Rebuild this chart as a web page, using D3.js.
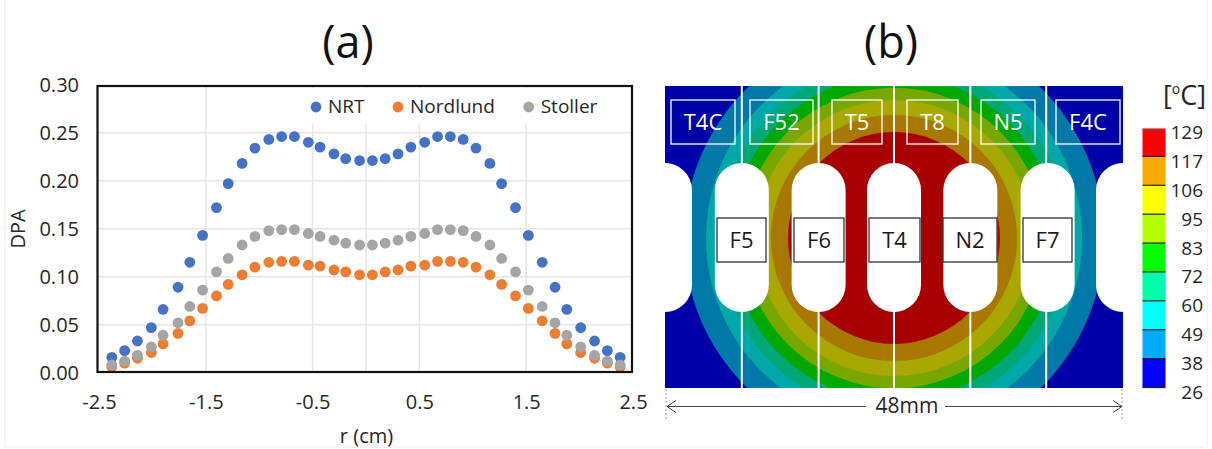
<!DOCTYPE html>
<html>
<head>
<meta charset="utf-8">
<script src="https://cdn.jsdelivr.net/npm/d3@7"></script>
<style>
  html, body { margin: 0; background: #fff; }
  svg { display: block; font-family: "Open Sans", sans-serif; }
</style>
</head>
<body>
<svg id="chart" width="1212" height="449"></svg>
<script>
// (a) DPA vs radius
const radius = [-2.38, -2.26, -2.14, -2.01, -1.90, -1.76, -1.65, -1.53, -1.40, -1.29, -1.16, -1.04, -0.91, -0.79, -0.67, -0.54, -0.43, -0.30, -0.19, -0.06,
  0.06, 0.18, 0.30, 0.42, 0.55, 0.67, 0.79, 0.91, 1.03, 1.16, 1.27, 1.40, 1.52, 1.65, 1.77, 1.88, 2.01, 2.14, 2.26, 2.38];
const nrt = [0.016, 0.023, 0.033, 0.047, 0.066, 0.089, 0.115, 0.143, 0.172, 0.197, 0.218, 0.234, 0.243, 0.246, 0.246, 0.240, 0.235, 0.228, 0.223, 0.221,
  0.221, 0.223, 0.228, 0.235, 0.240, 0.246, 0.246, 0.243, 0.234, 0.218, 0.197, 0.172, 0.143, 0.115, 0.089, 0.066, 0.047, 0.033, 0.023, 0.016];
const nordlund = [0.006, 0.010, 0.015, 0.021, 0.030, 0.041, 0.054, 0.067, 0.080, 0.092, 0.102, 0.110, 0.115, 0.116, 0.116, 0.112, 0.111, 0.107, 0.105, 0.102,
  0.102, 0.105, 0.107, 0.111, 0.112, 0.116, 0.116, 0.115, 0.110, 0.102, 0.092, 0.080, 0.067, 0.054, 0.041, 0.030, 0.021, 0.015, 0.010, 0.006];
const stoller = [0.008, 0.012, 0.018, 0.027, 0.039, 0.052, 0.069, 0.086, 0.105, 0.119, 0.133, 0.142, 0.148, 0.149, 0.149, 0.145, 0.142, 0.138, 0.135, 0.133,
  0.133, 0.135, 0.138, 0.142, 0.145, 0.149, 0.149, 0.148, 0.142, 0.133, 0.119, 0.105, 0.086, 0.069, 0.052, 0.039, 0.027, 0.018, 0.012, 0.008];
const seriesNames = ["NRT", "Nordlund", "Stoller"];
const seriesValues = [nrt, nordlund, stoller];
const seriesColors = ["#4472c4", "#ed7d31", "#a5a5a5"];
const xTicks = [-2.5, -1.5, -0.5, 0.5, 1.5, 2.5];
const xGrid = [-1.5, -0.5, 0, 0.5, 1.5];
const yTicks = [0, 0.05, 0.10, 0.15, 0.20, 0.25, 0.30];

// (b) temperature map
const tempLabels = ["129", "117", "106", "95", "83", "72", "60", "49", "38", "26"];
const bandColors = ["#ff0000", "#ffaa00", "#ffff00", "#b4ff00", "#00ff00", "#00ffaa", "#00ffff", "#00aaff", "#0000ff"];
const mapColors = ["#a80000", "#a87800", "#a8a800", "#78a800", "#00a800", "#00a878", "#00a8a8", "#0078a8", "#0000a8"];
const ringRadiusMm = [22.0, 19.7, 18.34, 17.09, 15.75, 14.47, 12.9, 11.1]; // outer to inner
const slotCentersMm = [-24, -15.95, -7.9, 0, 8, 16.1, 24];
const lineCentersMm = [-15.95, -7.9, 0, 8, 15.95];
const topNames = ["T4C", "F52", "T5", "T8", "N5", "F4C"];
const topEdges = [[671, 735], [750, 813], [832, 882], [907, 958], [981, 1035], [1056, 1120]];
const midNames = ["F5", "F6", "T4", "N2", "F7"];
const midEdges = [[717, 766], [794, 844], [869, 920], [943, 997], [1023, 1072]];

const svg = d3.select("#chart");
const inkColor = "#262626";

// page border
svg.append("rect").attr("x", 5).attr("y", -2).attr("width", 1202).attr("height", 449)
  .attr("fill", "none").attr("stroke", "#eeeeee");

svg.append("text").attr("x", 348).attr("y", 58).attr("text-anchor", "middle")
  .attr("font-size", 45).attr("fill", "#111").text("(a)");
svg.append("text").attr("x", 891).attr("y", 58).attr("text-anchor", "middle")
  .attr("font-size", 45).attr("fill", "#111").text("(b)");

// ---- panel a ----
const x = d3.scaleLinear().domain([-2.5, 2.5]).range([99, 633]);
const y = d3.scaleLinear().domain([0, 0.3]).range([372.7, 84.7]);

const plot = svg.append("g");
plot.selectAll(".gy").data(yTicks.slice(1, 6)).join("line")
  .attr("x1", 98).attr("x2", 632)
  .attr("y1", d => y(d)).attr("y2", d => y(d))
  .attr("stroke", "#e6e6e6").attr("stroke-width", 1.5);
plot.selectAll(".gx").data(xGrid).join("line")
  .attr("x1", d => x(d)).attr("x2", d => x(d))
  .attr("y1", 86).attr("y2", 372)
  .attr("stroke", "#e6e6e6").attr("stroke-width", 1.5);

// the legend sits on a white patch that hides the grid
plot.append("rect").attr("x", 302).attr("y", 88).attr("width", 328).attr("height", 36).attr("fill", "#fff");

const xAxis = d3.axisBottom(x).tickValues(xTicks).tickFormat(d3.format(".1f")).tickSize(0).tickPadding(23);
const gx = svg.append("g").attr("transform", "translate(0,372)").call(xAxis);
const yAxis = d3.axisLeft(y).tickValues(yTicks).tickFormat(d3.format(".2f")).tickSize(0).tickPadding(19);
const gy = svg.append("g").attr("transform", "translate(98,0)").call(yAxis);
[gx, gy].forEach(g => {
  g.select(".domain").remove();
  g.selectAll("text").attr("font-size", 20).attr("font-family", "Open Sans").attr("fill", inkColor);
});
gx.selectAll("text").text(d => d3.format(".1f")(d).replace("−", "-"));

svg.append("text").attr("transform", "translate(25,229) rotate(-90)").attr("text-anchor", "middle")
  .attr("font-size", 20).attr("fill", inkColor).text("DPA");
svg.append("text").attr("x", 366.5).attr("y", 443).attr("text-anchor", "middle")
  .attr("font-size", 20).attr("fill", inkColor).text("r (cm)");

seriesValues.forEach((vals, s) => {
  plot.append("g").selectAll("circle").data(vals).join("circle")
    .attr("cx", (d, i) => x(radius[i]))
    .attr("cy", d => y(d))
    .attr("r", 5.4)
    .attr("fill", seriesColors[s]);
});

plot.append("rect").attr("x", 97.5).attr("y", 86).attr("width", 534.5).attr("height", 286)
  .attr("fill", "none").attr("stroke", "#111").attr("stroke-width", 2.2);

const legendDotX = [316, 398, 528.7];
seriesNames.forEach((name, s) => {
  svg.append("circle").attr("cx", legendDotX[s]).attr("cy", 107).attr("r", 5.4).attr("fill", seriesColors[s]);
  svg.append("text").attr("x", legendDotX[s] + 12).attr("y", 113)
    .attr("font-size", 19).attr("fill", inkColor).text(name);
});

// ---- panel b ----
const mx = d3.scaleLinear().domain([-24, 24]).range([665, 1123]);
const my = d3.scaleLinear().domain([-15.83, 15.83]).range([86, 388]);
const mmToPx = (mx(1) - mx(0));
const mapCenterY = 238;

svg.append("clipPath").attr("id", "mapClip").append("rect")
  .attr("x", mx(-24)).attr("y", my(-15.83)).attr("width", mx(24) - mx(-24)).attr("height", my(15.83) - my(-15.83));

const map = svg.append("g").attr("clip-path", "url(#mapClip)");
map.append("rect").attr("x", mx(-24)).attr("y", my(-15.83)).attr("width", mx(24) - mx(-24)).attr("height", my(15.83) - my(-15.83))
  .attr("fill", mapColors[8]);
map.selectAll("circle").data(ringRadiusMm).join("circle")
  .attr("cx", mx(0)).attr("cy", mapCenterY)
  .attr("r", d => d * mmToPx)
  .attr("fill", (d, i) => mapColors[7 - i]);

map.selectAll(".line").data(lineCentersMm).join("line")
  .attr("x1", d => mx(d)).attr("x2", d => mx(d))
  .attr("y1", my(-15.83)).attr("y2", my(15.83))
  .attr("stroke", "#fff").attr("stroke-width", 2);

map.selectAll(".slot").data(slotCentersMm).join("rect")
  .attr("x", d => mx(d) - 27).attr("y", 163)
  .attr("width", 54).attr("height", 149)
  .attr("rx", 27).attr("ry", 27)
  .attr("fill", "#fff");

// slot labels
topNames.forEach((name, i) => {
  const [a, b] = topEdges[i];
  svg.append("rect").attr("x", a).attr("y", 100).attr("width", b - a).attr("height", 44)
    .attr("fill", "none").attr("stroke", "#fff").attr("stroke-width", 1.3);
  svg.append("text").attr("x", (a + b) / 2).attr("y", 130).attr("text-anchor", "middle")
    .attr("font-size", 22).attr("fill", "#fff").text(name);
});
midNames.forEach((name, i) => {
  const [a, b] = midEdges[i];
  svg.append("rect").attr("x", a).attr("y", 218).attr("width", b - a).attr("height", 44)
    .attr("fill", "#fff").attr("stroke", "#333").attr("stroke-width", 1.3);
  svg.append("text").attr("x", (a + b) / 2).attr("y", 248).attr("text-anchor", "middle")
    .attr("font-size", 22).attr("fill", "#1a1a1a").text(name);
});

// 48mm dimension
const dim = svg.append("g").attr("stroke", "#444").attr("fill", "none");
dim.append("line").attr("x1", 667).attr("x2", 866).attr("y1", 406.5).attr("y2", 406.5);
dim.append("line").attr("x1", 945).attr("x2", 1122).attr("y1", 406.5).attr("y2", 406.5);
dim.append("path").attr("d", "M676,400.5 L667,406.5 L676,412.5");
dim.append("path").attr("d", "M1113,400.5 L1122,406.5 L1113,412.5");
[666, 1122].forEach(px => {
  dim.append("line").attr("x1", px).attr("x2", px).attr("y1", 389).attr("y2", 421)
    .attr("stroke", "#999").attr("stroke-dasharray", "2 2");
});
svg.append("text").attr("x", 907).attr("y", 413).attr("text-anchor", "middle")
  .attr("font-size", 21).attr("fill", inkColor).text("48mm");

// colour bar
const barY = d3.scalePoint().domain(tempLabels).range([132, 392]);
const barX = 1142.5, barW = 23;
const barTop = t => (t === "129" ? 128.5 : barY(t) - 4.5);
const bar = svg.append("g");
bar.selectAll("rect").data(bandColors).join("rect")
  .attr("x", barX).attr("width", barW)
  .attr("y", (d, i) => barTop(tempLabels[i]))
  .attr("height", (d, i) => barTop(tempLabels[i + 1]) - barTop(tempLabels[i]))
  .attr("fill", d => d);
bar.selectAll("line").data(tempLabels).join("line")
  .attr("x1", barX).attr("x2", barX + barW)
  .attr("y1", d => barTop(d)).attr("y2", d => barTop(d))
  .attr("stroke", d => (d === "129" ? "#999" : "#222")).attr("stroke-width", 1.2);
svg.append("g").selectAll("text").data(tempLabels).join("text")
  .attr("x", 1203).attr("y", d => barY(d) + 7)
  .attr("text-anchor", "end").attr("font-size", 19).attr("fill", inkColor)
  .text(d => d);

const unit = svg.append("text").attr("x", 1206).attr("y", 105).attr("text-anchor", "end")
  .attr("font-size", 27).attr("fill", inkColor);
unit.append("tspan").text("[");
unit.append("tspan").attr("font-size", 14).attr("dy", -11).text("o");
unit.append("tspan").attr("dy", 11).text("C]");
</script>
</body>
</html>
